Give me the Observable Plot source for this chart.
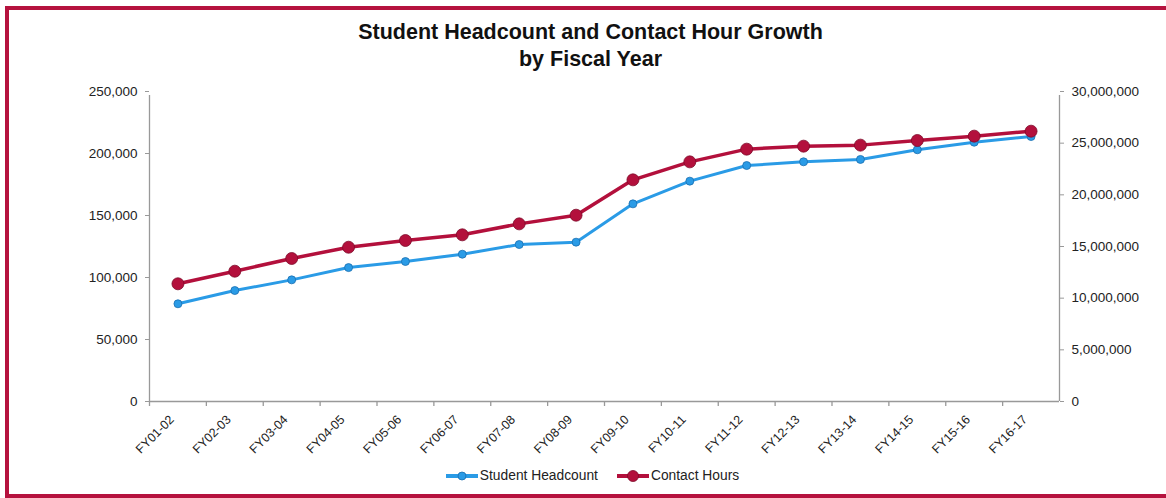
<!DOCTYPE html>
<html><head><meta charset="utf-8">
<script src="https://cdn.jsdelivr.net/npm/d3@7"></script>
<script src="https://cdn.jsdelivr.net/npm/@observablehq/plot@0.6"></script>
<style>
body{margin:0;background:#fff;font-family:"Liberation Sans",Arial,sans-serif;}
#wrap{position:relative;width:1166px;height:498px;overflow:hidden;background:#fff;}
#frame{position:absolute;left:5px;top:6px;width:1200px;height:492px;box-sizing:border-box;border:4px solid #b5123e;}
#title{position:absolute;top:19px;left:0;width:1181px;text-align:center;font-weight:bold;font-size:21.5px;line-height:27px;color:#111;}
#chart{position:absolute;left:0;top:0;}
#legend{position:absolute;top:468px;left:0;width:1184px;display:flex;justify-content:center;gap:18px;font-size:13.8px;color:#222;}
.item{display:flex;align-items:center;}
.item svg{margin-right:1px;}
</style></head>
<body><div id="wrap"><div id="frame"></div>
<div id="title">Student Headcount and Contact Hour Growth<br>by Fiscal Year</div>
<div id="chart"></div>
<div id="legend"></div>
</div>
<script>
const years = ["FY01-02","FY02-03","FY03-04","FY04-05","FY05-06","FY06-07","FY07-08","FY08-09","FY09-10","FY10-11","FY11-12","FY12-13","FY13-14","FY14-15","FY15-16","FY16-17"];
const headcount = [78800, 89500, 98100, 108000, 112900, 118800, 126600, 128500, 159400, 177700, 190300, 193300, 195200, 203000, 209100, 213700];
const contactHours = [11390000, 12610000, 13840000, 14930000, 15580000, 16130000, 17190000, 18030000, 21450000, 23190000, 24420000, 24710000, 24810000, 25260000, 25680000, 26160000];
const leftTicks = [0, 50000, 100000, 150000, 200000, 250000];
const rightTicks = [0, 5000000, 10000000, 15000000, 20000000, 25000000, 30000000];
const seriesNames = ["Student Headcount", "Contact Hours"];
const colors = ["#2a9be6", "#b3103c"];

const RATIO = rightTicks[rightTicks.length-1] / leftTicks[leftTicks.length-1];
const rows = years.map((y, i) => ({year: y, headcount: headcount[i], hours: contactHours[i] / RATIO}));
const mL = 149, mR = 107, W = 1166;
const step = (W - mL - mR) / years.length;
const fmt = d3.format(",");

const chart = Plot.plot({
  width: W, height: 470,
  marginTop: 91, marginBottom: 69, marginLeft: mL, marginRight: mR,
  x: {type: "point", domain: years, padding: 0.5, round: false},
  y: {domain: [0, 250000]},
  style: {fontFamily: "'Liberation Sans', Arial, sans-serif", fontSize: "13.5px", color: "#222", background: "transparent"},
  marks: [
    Plot.ruleY([0], {stroke: "#999", strokeWidth: 1.3}),
    Plot.ruleX([years[0]], {dx: -step/2, y1: 0, y2: 250000, insetBottom: -4, stroke: "#999", strokeWidth: 1.3}),
    Plot.ruleX([years[years.length-1]], {dx: step/2, y1: 0, y2: 250000, insetBottom: -4, stroke: "#999", strokeWidth: 1.3}),
    Plot.ruleX(years, {x: d => d, dx: -step/2, y1: 0, y2: 0, insetBottom: -5, stroke: "#999", strokeWidth: 1.3}),
    Plot.axisY({ticks: leftTicks, tickFormat: fmt, tickSize: 4, tickPadding: 8, label: null, stroke: "#999", fill: "#222"}),
    Plot.axisY({anchor: "right", ticks: rightTicks.map(v => v / RATIO), tickFormat: d => fmt(Math.round(d * RATIO)), tickSize: 4, tickPadding: 8, label: null, stroke: "#999", fill: "#222"}),
    Plot.axisX({tickSize: 0, tickRotate: -45, tickPadding: 16, dx: -6, label: null, fill: "#222", fontSize: 12.5}),
    Plot.line(rows, {x: "year", y: "headcount", stroke: colors[0], strokeWidth: 3}),
    Plot.dot(rows, {x: "year", y: "headcount", r: 4, fill: colors[0], stroke: "#1a6fb0", strokeWidth: 0.8}),
    Plot.line(rows, {x: "year", y: "hours", stroke: colors[1], strokeWidth: 3.5}),
    Plot.dot(rows, {x: "year", y: "hours", r: 6, fill: colors[1], stroke: "#7d0a29", strokeWidth: 0.8})
  ]
});
document.getElementById("chart").appendChild(chart);

const legend = document.getElementById("legend");
seriesNames.forEach((name, i) => {
  const r = i === 0 ? 4 : 5.5;
  const item = document.createElement("div");
  item.className = "item";
  item.innerHTML = `<svg width="34" height="14"><line x1="1" x2="33" y1="7" y2="7" stroke="${colors[i]}" stroke-width="4"/><circle cx="17" cy="7" r="${r}" fill="${colors[i]}" stroke="${i ? '#7d0a29' : '#1a6fb0'}" stroke-width="0.8"/></svg><span>${name}</span>`;
  legend.appendChild(item);
});
</script>
</body></html>
